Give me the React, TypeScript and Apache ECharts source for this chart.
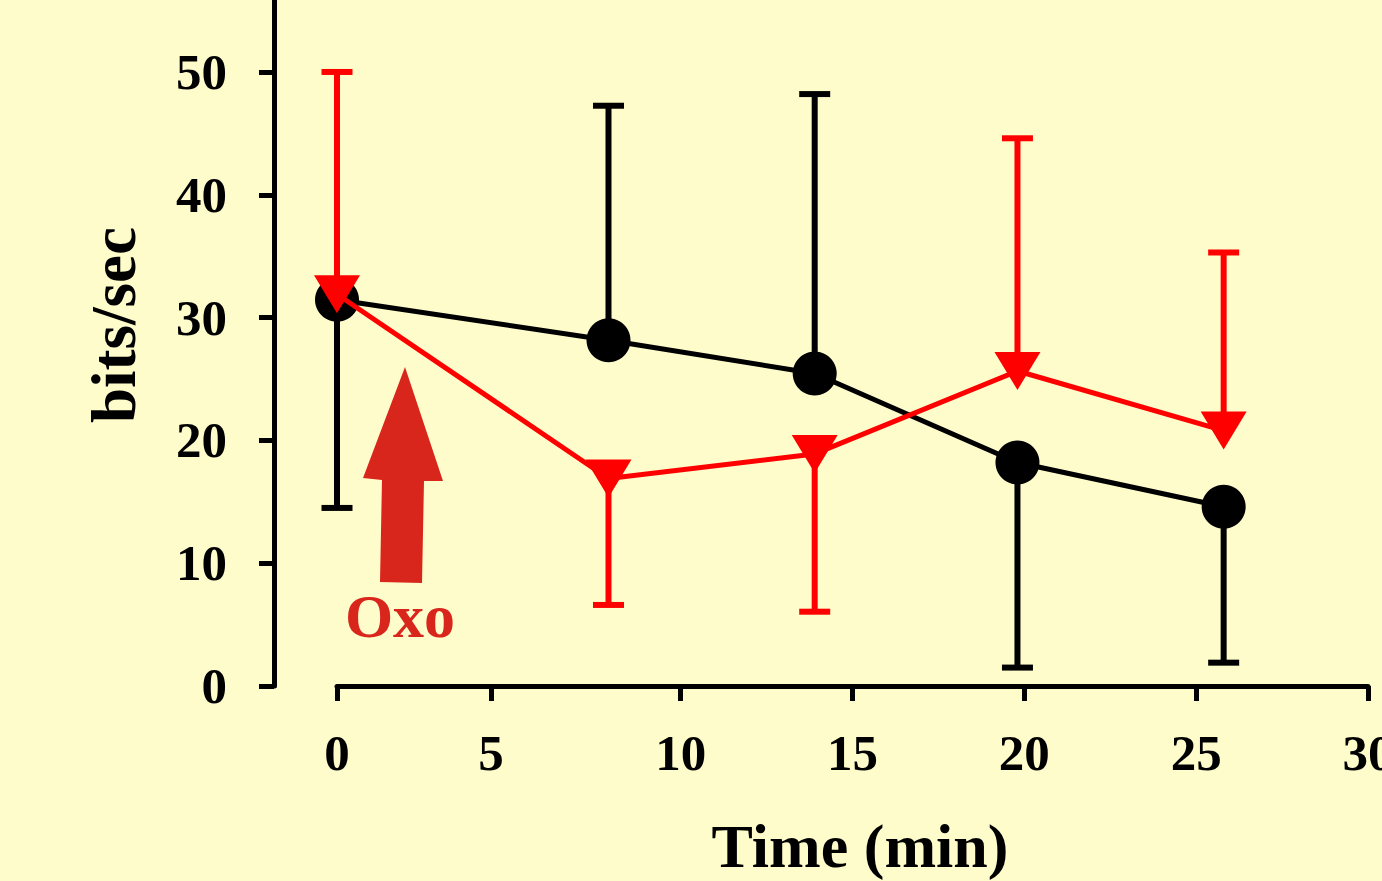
import React, { useEffect, useRef } from "react";
import * as echarts from "echarts";

// ---- Data ----
const times = [0, 7.9, 13.9, 19.8, 25.8];
const controlMean = [31.45, 28.15, 25.45, 18.2, 14.6];
const controlErrEnd = [14.5, 47.25, 48.2, 1.5, 1.9];
const oxoMean = [31.9, 16.9, 18.9, 25.65, 20.8];
const oxoErrEnd = [50, 6.6, 6.05, 44.6, 35.3];

const xTickValues = [0, 4.48, 10, 15, 20, 25, 30];
const xTickLabels = ["0", "5", "10", "15", "20", "25", "30"];
const yTickValues = [0, 10, 20, 30, 40, 50];

const FONT = "'Liberation Serif', 'Times New Roman', serif";
const BG = "#FFFCCB";
const ARROW_RED = "#D9261C";

function errRender(color: string) {
  return (params: any, api: any) => {
    const x = api.value(0);
    const m = api.value(1);
    const e = api.value(2);
    const p0 = api.coord([x, m]);
    const p1 = api.coord([x, e]);
    const hw = 15.5;
    return {
      type: "group",
      children: [
        {
          type: "line",
          shape: { x1: p0[0], y1: p0[1], x2: p1[0], y2: p1[1] },
          style: { stroke: color, lineWidth: 6 },
        },
        {
          type: "line",
          shape: { x1: p1[0] - hw, y1: p1[1], x2: p1[0] + hw, y2: p1[1] },
          style: { stroke: color, lineWidth: 6 },
        },
      ],
    };
  };
}

export default function App() {
  const ref = useRef<HTMLDivElement>(null);

  useEffect(() => {
    if (!ref.current) return;
    const chart = echarts.init(ref.current, null, { renderer: "svg" });

    const controlLine = times.map((t, i) => [t, controlMean[i]]);
    const oxoLine = times.map((t, i) => [t, oxoMean[i]]);
    const controlErr = times.map((t, i) => [t, controlMean[i], controlErrEnd[i]]);
    const oxoErr = times.map((t, i) => [t, oxoMean[i], oxoErrEnd[i]]);

    chart.setOption({
      animation: false,
      backgroundColor: BG,
      grid: {
        left: 337,
        right: 14,
        top: 0,
        bottom: 195,
        containLabel: false,
        outerBoundsMode: "none",
      },
      xAxis: {
        type: "value",
        min: 0,
        max: 30,
        axisLine: { show: true, onZero: false, lineStyle: { color: "#000", width: 5 } },
        axisTick: {
          show: true,
          length: 15,
          customValues: xTickValues,
          lineStyle: { color: "#000", width: 5 },
        },
        axisLabel: {
          customValues: xTickValues,
          margin: 41,
          color: "#000",
          fontFamily: FONT,
          fontWeight: "bold",
          fontSize: 51,
          hideOverlap: false,
          formatter: (v: number) => {
            const idx = xTickValues.indexOf(v);
            return idx >= 0 ? xTickLabels[idx] : "";
          },
        },
        splitLine: { show: false },
      },
      yAxis: {
        type: "value",
        min: 0,
        max: 55.86,
        offset: 63,
        axisLine: { show: true, onZero: false, lineStyle: { color: "#000", width: 5 } },
        axisTick: {
          show: true,
          length: 15,
          customValues: yTickValues,
          lineStyle: { color: "#000", width: 5 },
        },
        axisLabel: {
          customValues: yTickValues,
          margin: 47,
          color: "#000",
          fontFamily: FONT,
          fontWeight: "bold",
          fontSize: 51,
        },
        splitLine: { show: false },
      },
      graphic: [
        {
          type: "polygon",
          shape: {
            points: [
              [405, 367],
              [443, 481],
              [424, 481],
              [422, 583],
              [380, 582],
              [382, 480],
              [363, 478],
            ],
          },
          style: { fill: ARROW_RED },
          z: 1,
        },
        {
          type: "text",
          x: 400,
          y: 616,
          style: {
            text: "Oxo",
            fill: ARROW_RED,
            font: `bold 62px ${FONT}`,
            align: "center",
            verticalAlign: "middle",
          },
        },
        {
          type: "text",
          x: 860,
          y: 846,
          style: {
            text: "Time (min)",
            fill: "#000",
            font: `bold 62px ${FONT}`,
            align: "center",
            verticalAlign: "middle",
          },
        },
        {
          type: "text",
          x: 114,
          y: 325,
          rotation: Math.PI / 2,
          style: {
            text: "bits/sec",
            fill: "#000",
            font: `bold 63px ${FONT}`,
            align: "center",
            verticalAlign: "middle",
          },
        },
      ],
      series: [
        {
          type: "custom",
          name: "control err",
          renderItem: errRender("#000"),
          data: controlErr,
          clip: false,
          z: 2,
        },
        {
          type: "line",
          name: "Control",
          data: controlLine,
          symbol: "circle",
          symbolSize: 44,
          itemStyle: { color: "#000" },
          lineStyle: { color: "#000", width: 5 },
          z: 3,
        },
        {
          type: "custom",
          name: "oxo err",
          renderItem: errRender("#FF0000"),
          data: oxoErr,
          clip: false,
          z: 4,
        },
        {
          type: "line",
          name: "Oxo",
          data: oxoLine,
          symbol: "triangle",
          symbolRotate: 180,
          symbolSize: [46, 38],
          itemStyle: { color: "#FF0000" },
          lineStyle: { color: "#FF0000", width: 5 },
          z: 5,
        },
      ],
    });

    return () => {
      chart.dispose();
    };
  }, []);

  return (
    <div
      ref={ref}
      style={{
        position: "fixed",
        left: 0,
        top: 0,
        width: 1382,
        height: 881,
        background: BG,
      }}
    />
  );
}
